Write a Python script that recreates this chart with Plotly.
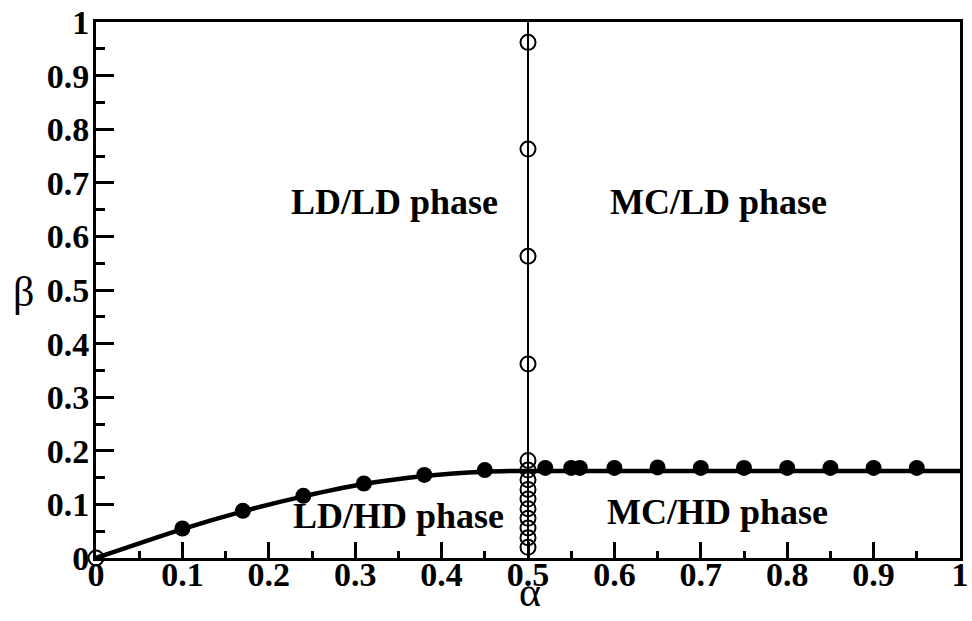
import plotly.graph_objects as go

# Boundary curve (LD/HD vs LD/LD) and flat MC boundary
alpha_curve = [0, 0.1, 0.17, 0.24, 0.31, 0.38, 0.45, 0.5]
beta_curve = [0, 0.054, 0.087, 0.115, 0.138, 0.153, 0.161, 0.1625]
alpha_flat = [0.5, 1.0]
beta_flat = [0.1625, 0.1625]

# Vertical boundary alpha = 0.5
alpha_vert = [0.5, 0.5]
beta_vert = [0, 1]

# Filled simulation points
alpha_filled = [0.1, 0.17, 0.24, 0.31, 0.38, 0.45, 0.52, 0.55, 0.56, 0.6, 0.65,
                0.7, 0.75, 0.8, 0.85, 0.9, 0.95]
beta_filled = [0.055, 0.088, 0.116, 0.139, 0.155, 0.164, 0.168, 0.168, 0.168, 0.168,
               0.169, 0.168, 0.168, 0.168, 0.168, 0.168, 0.168]

# Open simulation points
alpha_open = [0, 0.5, 0.5, 0.5, 0.5, 0.5, 0.5, 0.5, 0.5, 0.5, 0.5, 0.5, 0.5, 0.5, 0.5]
beta_open = [0, 0.962, 0.763, 0.563, 0.362, 0.182, 0.164, 0.146, 0.128, 0.11,
             0.092, 0.074, 0.056, 0.038, 0.02]

tick_vals = [0, 0.1, 0.2, 0.3, 0.4, 0.5, 0.6, 0.7, 0.8, 0.9, 1]
tick_text = ["0", "0.1", "0.2", "0.3", "0.4", "0.5", "0.6", "0.7", "0.8", "0.9", "1"]

phase_labels = ["LD/LD phase", "MC/LD phase", "LD/HD phase", "MC/HD phase"]
phase_x = [0.346, 0.72, 0.35, 0.719]
phase_y = [0.664, 0.664, 0.078, 0.086]

FONT = "Liberation Serif"

fig = go.Figure()
fig.add_trace(go.Scatter(x=alpha_vert, y=beta_vert, mode="lines",
                         line=dict(color="black", width=2), showlegend=False))
fig.add_trace(go.Scatter(x=alpha_curve, y=beta_curve, mode="lines",
                         line=dict(color="black", width=4.5, shape="spline", smoothing=0.8),
                         showlegend=False))
fig.add_trace(go.Scatter(x=alpha_flat, y=beta_flat, mode="lines",
                         line=dict(color="black", width=4.5), showlegend=False))
fig.add_trace(go.Scatter(x=alpha_filled, y=beta_filled, mode="markers",
                         marker=dict(symbol="circle", size=16, color="black"),
                         showlegend=False))
fig.add_trace(go.Scatter(x=alpha_open, y=beta_open, mode="markers", cliponaxis=False,
                         marker=dict(symbol="circle-open", size=15, color="black",
                                     line=dict(width=2)),
                         showlegend=False))

for t, x, y in zip(phase_labels, phase_x, phase_y):
    fig.add_annotation(x=x, y=y, xref="x", yref="y", text=t, showarrow=False,
                       font=dict(family=FONT, size=36, color="black", weight="bold"))

fig.add_annotation(x=-0.098, y=0.496, xref="paper", yref="paper", text="β",
                   showarrow=False, font=dict(family=FONT, size=42, color="black"))
fig.add_annotation(x=0.502, y=-0.11, xref="paper", yref="paper", text="α",
                   showarrow=False, font=dict(family=FONT, size=42, color="black"))

axis_common = dict(range=[0, 1], showgrid=False, zeroline=False, showline=True,
                   linecolor="black", linewidth=3, mirror=True, ticks="inside",
                   tickwidth=3, tickcolor="black", tickvals=tick_vals, ticktext=tick_text,
                   automargin=False,
                   tickfont=dict(family=FONT, size=34, color="black", weight="bold"))

fig.update_xaxes(**axis_common, ticklen=16, ticklabelstandoff=-16,
                 minor=dict(ticks="inside", ticklen=7, tickwidth=3, tickcolor="black",
                            dtick=0.05, tick0=0))
fig.update_yaxes(**axis_common, ticklen=18, ticklabelstandoff=-3,
                 minor=dict(ticks="inside", ticklen=9, tickwidth=3, tickcolor="black",
                            dtick=0.05, tick0=0))

fig.update_layout(width=972, height=621,
                  margin=dict(l=96, r=12, t=22, b=63, autoexpand=False),
                  plot_bgcolor="white", paper_bgcolor="white")

fig.write_html("out.html", config={"displayModeBar": False},
               post_script="document.body.style.margin='0px';document.body.style.overflow='hidden';")
